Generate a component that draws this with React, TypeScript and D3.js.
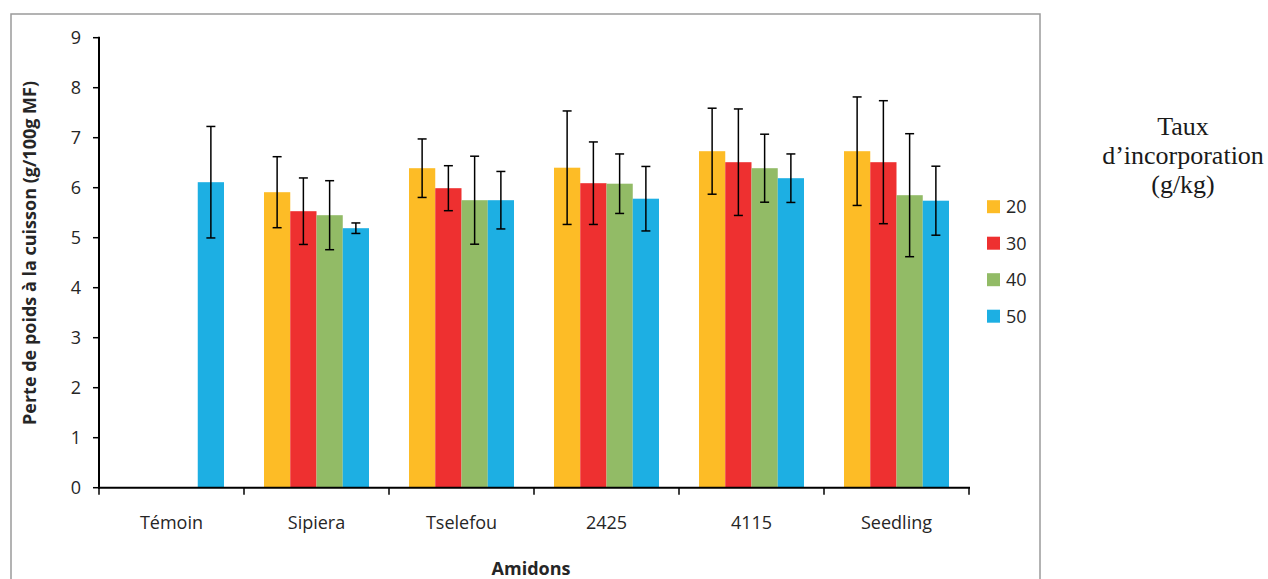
import React from "react";
import * as d3 from "d3";

const categories = ["Témoin", "Sipiera", "Tselefou", "2425", "4115", "Seedling"];
const seriesNames = ["20", "30", "40", "50"];
const seriesColors = ["#FDBC26", "#EE3030", "#92BB66", "#1DAFE3"];

const values20 = [null, 5.91, 6.39, 6.4, 6.73, 6.73];
const values30 = [null, 5.53, 5.99, 6.09, 6.51, 6.51];
const values40 = [null, 5.45, 5.75, 6.08, 6.39, 5.85];
const values50 = [6.11, 5.19, 5.75, 5.78, 6.19, 5.74];

const sd20 = [null, 0.71, 0.585, 1.135, 0.86, 1.085];
const sd30 = [null, 0.665, 0.45, 0.825, 1.065, 1.23];
const sd40 = [null, 0.69, 0.88, 0.595, 0.68, 1.23];
const sd50 = [1.115, 0.105, 0.575, 0.645, 0.485, 0.69];

const yTicks = [0, 1, 2, 3, 4, 5, 6, 7, 8, 9];

const yTitle = "Perte de poids à la cuisson (g/100g MF)";
const xTitle = "Amidons";
const legendTitle = ["Taux", "d’incorporation", "(g/kg)"];

const W = 1268;
const H = 579;
const left = 99;
const right = 969;
const top = 37.7;
const bottom = 487.7;

export default function App() {
  const allValues = [values20, values30, values40, values50];
  const allSd = [sd20, sd30, sd40, sd50];

  const x0 = d3.scaleBand<string>().domain(categories).range([left, right]).padding(0);
  const bw = x0.bandwidth();
  const gap = 20;
  const x1 = d3.scaleBand<string>().domain(seriesNames).range([gap, bw - gap]).padding(0);
  const y = d3.scaleLinear().domain([0, 9]).range([bottom, top]);

  const font = "'Open Sans', sans-serif";
  const textColor = "#262626";

  const bars: React.ReactNode[] = [];
  const errs: React.ReactNode[] = [];
  categories.forEach((c, ci) => {
    seriesNames.forEach((s, si) => {
      const v = allValues[si][ci];
      const e = allSd[si][ci];
      if (v == null) return;
      const bx = (x0(c) as number) + (x1(s) as number);
      const w = x1.bandwidth();
      bars.push(
        <rect key={`b-${ci}-${si}`} x={bx} y={y(v)} width={w} height={y(0) - y(v)} fill={seriesColors[si]} />
      );
      if (e != null) {
        const cx = bx + w / 2;
        const yHi = y(v + e);
        const yLo = y(v - e);
        errs.push(
          <g key={`e-${ci}-${si}`} stroke="#000" strokeWidth={1.5}>
            <line x1={cx} x2={cx} y1={yHi} y2={yLo} />
            <line x1={cx - 4.5} x2={cx + 4.5} y1={yHi} y2={yHi} />
            <line x1={cx - 4.5} x2={cx + 4.5} y1={yLo} y2={yLo} />
          </g>
        );
      }
    });
  });

  const xTickPositions = categories.map((c) => x0(c) as number).concat([right]);

  return (
    <svg
      width={W}
      height={H}
      style={{ position: "absolute", left: 0, top: 0, display: "block", background: "#fff" }}
    >
      <rect x={0} y={0} width={W} height={H} fill="#fff" />
      {/* frame */}
      <rect x={11} y={14} width={1029} height={600} fill="none" stroke="#9a9a9a" strokeWidth={1.5} />

      {bars}
      {errs}

      {/* y axis */}
      <line x1={left} x2={left} y1={top - 1} y2={bottom + 1} stroke="#000" strokeWidth={2} />
      {yTicks.map((t) => (
        <g key={`yt-${t}`}>
          <line x1={left - 6} x2={left} y1={y(t)} y2={y(t)} stroke="#000" strokeWidth={1.5} />
          <text
            x={81}
            y={y(t)}
            dy="0.36em"
            textAnchor="end"
            fontFamily={font}
            fontSize={18}
            fill={textColor}
          >
            {t}
          </text>
        </g>
      ))}

      {/* x axis */}
      <line x1={left - 1} x2={right + 1} y1={bottom} y2={bottom} stroke="#000" strokeWidth={2} />
      {xTickPositions.map((p, i) => (
        <line key={`xt-${i}`} x1={p} x2={p} y1={bottom} y2={bottom + 7} stroke="#000" strokeWidth={1.5} />
      ))}
      {categories.map((c) => (
        <text
          key={`xl-${c}`}
          x={(x0(c) as number) + bw / 2}
          y={529}
          textAnchor="middle"
          fontFamily={font}
          fontSize={18}
          fill={textColor}
        >
          {c}
        </text>
      ))}

      {/* axis titles */}
      <text
        x={531}
        y={575}
        textAnchor="middle"
        fontFamily={font}
        fontWeight="bold"
        fontSize={18}
        fill={textColor}
      >
        {xTitle}
      </text>
      <text
        transform="translate(36,253) rotate(-90)"
        textAnchor="middle"
        fontFamily={font}
        fontWeight="bold"
        fontSize={18}
        fill={textColor}
      >
        {yTitle}
      </text>

      {/* legend */}
      {seriesNames.map((s, i) => {
        const cy = 206.7 + i * 36.5;
        return (
          <g key={`lg-${s}`}>
            <rect x={987} y={cy - 6.5} width={13} height={13} fill={seriesColors[i]} />
            <text x={1006} y={cy} dy="0.36em" fontFamily={font} fontSize={18} fill={textColor}>
              {s}
            </text>
          </g>
        );
      })}

      {legendTitle.map((t, i) => (
        <text
          key={`lt-${i}`}
          x={1183}
          y={135 + i * 29}
          textAnchor="middle"
          fontFamily="'Liberation Serif', 'Times New Roman', serif"
          fontSize={26}
          fill="#1a1a1a"
        >
          {t}
        </text>
      ))}
    </svg>
  );
}
